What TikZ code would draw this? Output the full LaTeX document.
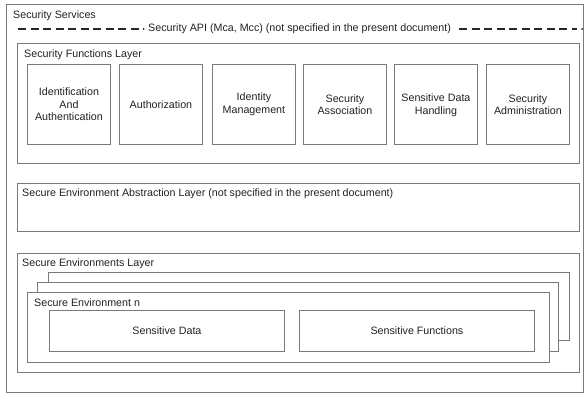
\documentclass[tikz,border=0pt]{standalone}
\usepackage{fontspec}
\setmainfont{Liberation Sans}
\usetikzlibrary{shadows}
\definecolor{edge}{HTML}{7A7A7A}
\definecolor{txt}{HTML}{222222}
\tikzset{
  box/.style={draw=edge, line width=0.9pt, fill=white, anchor=north west, inner sep=0pt,
    drop shadow={shadow xshift=0.8pt, shadow yshift=-0.8pt, opacity=0.25}},
  fbox/.style={box, minimum width=83pt, minimum height=80pt},
  lbl/.style={anchor=west, inner sep=0pt, text=txt, font=\fontsize{10.7}{12.5}\selectfont},
  ctext/.style={align=center, inner sep=0pt, text=txt, font=\fontsize{10.7}{12.5}\selectfont},
  apiline/.style={line width=1.6pt, draw=black!85, dash pattern=on 8pt off 4.5pt}
}
\begin{document}
\begin{tikzpicture}[x=1pt,y=-1pt]
\useasboundingbox (0,0) rectangle (585,393);
% outer
\node[draw=edge, line width=0.9pt, fill=white, anchor=north west, inner sep=0pt, minimum width=577pt, minimum height=388pt] (outer) at (6,4) {};
\node[lbl] (sst) at (13,15.5) {Security Services};
% API line
\coordinate (d1s) at (18,29);
\coordinate (d1e) at (141,29);
\node[lbl] (api) at (148,29) {Security API (Mca, Mcc) (not specified in the present document)};
\coordinate (d2s) at (459,29);
\coordinate (d2e) at (577,29);
\draw[apiline] (d1s) -- (d1e);
\draw[apiline] (d2s) -- (d2e);
\fill[black!85] (143.5,29) circle (1pt);
\fill[black!85] (582,29) circle (1pt);
% functions layer
\node[box, minimum width=562pt, minimum height=120pt] (funl) at (17,43) {};
\node[lbl] (funt) at (24,55) {Security Functions Layer};
\node[fbox] (f1) at (27,64) {};
\node[fbox] (f2) at (119,64) {};
\node[fbox] (f3) at (212,64) {};
\node[fbox] (f4) at (303,64) {};
\node[fbox] (f5) at (394,64) {};
\node[fbox] (f6) at (486,64) {};
\node[ctext] (t1) at (f1.center) {Identification\\And\\Authentication};
\node[ctext] (t2) at (f2.center) {Authorization};
\node[ctext] (t3) at (f3.center) {Identity\\Management};
\node[ctext] (t4) at (f4.center) {Security\\Association};
\node[ctext] (t5) at ([yshift=-1pt]f5.center) {Sensitive Data\\Handling};
\node[ctext] (t6) at (f6.center) {Security\\Administration};
% abstraction layer
\node[box, minimum width=562pt, minimum height=48pt] (absl) at (17,183) {};
\node[lbl] (abst) at (22,194) {Secure Environment Abstraction Layer (not specified in the present document)};
% environments layer
\node[box, minimum width=562pt, minimum height=119pt] (envl) at (17,253) {};
\node[lbl] (envt) at (22,264) {Secure Environments Layer};
\node[box, minimum width=521pt, minimum height=68pt] (env3) at (48,272) {};
\node[box, minimum width=521pt, minimum height=69pt] (env2) at (37,282) {};
\node[box, minimum width=522pt, minimum height=70pt] (env1) at (27,292) {};
\node[lbl] (envn) at (34,302.5) {Secure Environment n};
\node[box, minimum width=235pt, minimum height=41pt] (sd) at (49,310) {};
\node[box, minimum width=235pt, minimum height=41pt] (sf) at (299,310) {};
\node[ctext] (sdt) at (sd.center) {Sensitive Data};
\node[ctext] (sft) at (sf.center) {Sensitive Functions};
\end{tikzpicture}
\end{document}
